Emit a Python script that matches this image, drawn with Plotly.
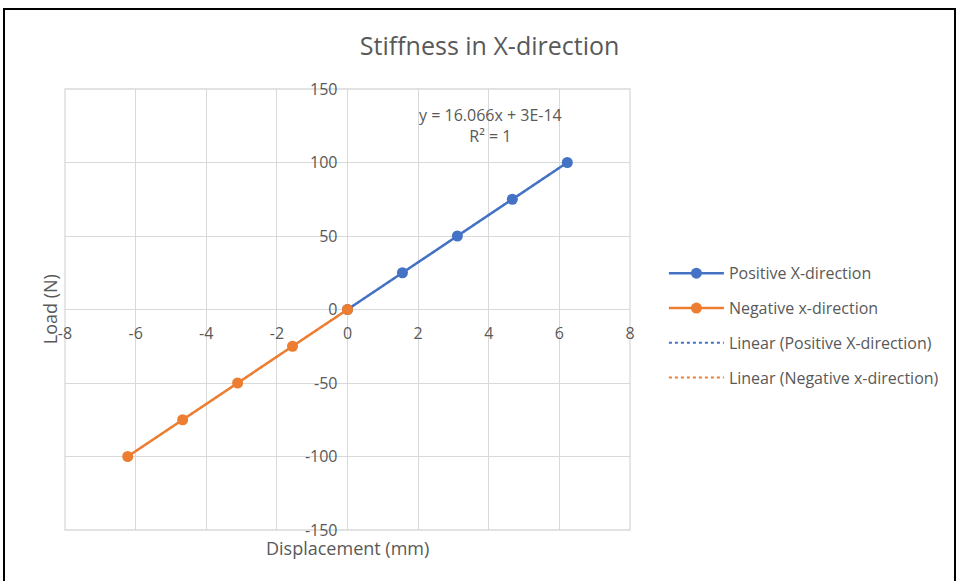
import plotly.graph_objects as go

# Load-displacement data, X-direction stiffness test
disp_pos = [0, 1.556, 3.112, 4.668, 6.224]
load_pos = [0, 25, 50, 75, 100]
disp_neg = [0, -1.556, -3.112, -4.668, -6.224]
load_neg = [0, -25, -50, -75, -100]

slope = 16.066
x_ticks = [-8, -6, -4, -2, 0, 2, 4, 6, 8]
y_ticks = [-150, -100, -50, 0, 50, 100, 150]

BLUE = "#4472C4"
ORANGE = "#ED7D31"
GRID = "#d9d9d9"
TXT = "#595959"
FONT = "Open Sans"

fig = go.Figure()

# linear trendlines through each series (drawn first, underneath)
fig.add_trace(go.Scatter(
    x=[disp_pos[0], disp_pos[-1]], y=[slope * disp_pos[0], slope * disp_pos[-1]],
    mode="lines", name="Linear (Positive X-direction)",
    line=dict(color=BLUE, width=2, dash="dot"), legendgroup="c", legendrank=3))
fig.add_trace(go.Scatter(
    x=[disp_neg[0], disp_neg[-1]], y=[slope * disp_neg[0], slope * disp_neg[-1]],
    mode="lines", name="Linear (Negative x-direction)",
    line=dict(color=ORANGE, width=2, dash="dot"), legendgroup="d", legendrank=4))

fig.add_trace(go.Scatter(
    x=disp_pos, y=load_pos, mode="lines+markers", name="Positive X-direction",
    line=dict(color=BLUE, width=2.5), marker=dict(size=11, color=BLUE),
    legendgroup="a", legendrank=1))
fig.add_trace(go.Scatter(
    x=disp_neg, y=load_neg, mode="lines+markers", name="Negative x-direction",
    line=dict(color=ORANGE, width=2.5), marker=dict(size=11, color=ORANGE),
    legendgroup="b", legendrank=2))

fig.update_layout(
    width=960, height=581,
    margin=dict(l=65, r=330, t=89, b=51),
    paper_bgcolor="white", plot_bgcolor="white",
    font=dict(family=FONT, color=TXT, size=15),
    title=dict(text="Stiffness in X-direction", x=0.51, xanchor="center",
               y=0.921, yanchor="middle", font=dict(size=25, color=TXT, family=FONT)),
    legend=dict(x=1.06, y=0.463, xanchor="left", yanchor="middle",
                font=dict(size=16, color=TXT, family=FONT),
                tracegroupgap=11, itemwidth=55),
    showlegend=True,
)

fig.update_xaxes(
    range=[-8, 8], tickvals=x_ticks, ticktext=[str(v) for v in x_ticks],
    showgrid=True, gridcolor=GRID, gridwidth=1.3,
    zeroline=False, showline=False, anchor="free", position=0.5,
    ticks="", ticklabelstandoff=12, tickfont=dict(size=16, color=TXT, family=FONT))
fig.update_yaxes(
    range=[-150, 150], tickvals=y_ticks, ticktext=[str(v) for v in y_ticks],
    showgrid=True, gridcolor=GRID, gridwidth=1.3,
    zeroline=False, showline=False, anchor="free", position=0.5,
    ticks="", ticklabelstandoff=10, tickfont=dict(size=16, color=TXT, family=FONT))

# trendline equation
fig.add_annotation(
    x=4.05, y=125, xref="x", yref="y",
    text=f"y = {slope}x + 3E-14<br>R² = 1", showarrow=False,
    font=dict(size=16, color=TXT, family=FONT), align="center")

# axis titles
fig.add_annotation(
    x=0.5, y=-0.01, xref="paper", yref="paper", xanchor="center", yanchor="top",
    text="Displacement (mm)", showarrow=False,
    font=dict(size=18, color=TXT, family=FONT))
fig.add_annotation(
    x=-0.027, y=0.5, xref="paper", yref="paper", xanchor="center", yanchor="middle",
    text="Load (N)", textangle=-90, showarrow=False,
    font=dict(size=18, color=TXT, family=FONT))

# plot-area edge and chart frame
fig.add_shape(type="rect", xref="paper", yref="paper", x0=0, y0=0, x1=1, y1=1,
              line=dict(color=GRID, width=1.3), layer="below")
fig.add_shape(type="rect", xref="paper", yref="paper",
              x0=-61 / 565, x1=890 / 565, y0=-60 / 441, y1=(441 + 80) / 441,
              line=dict(color="black", width=2))

fig.write_html("out.html")
